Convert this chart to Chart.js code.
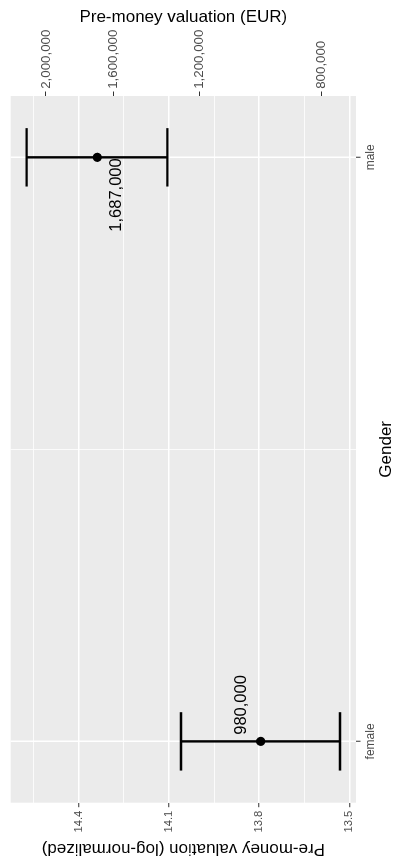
<!DOCTYPE html>
<html><head><meta charset="utf-8">
<script src="https://cdn.jsdelivr.net/npm/chart.js@4.4.0/dist/chart.umd.min.js"></script>
<style>
html,body{margin:0;padding:0;background:#fff;overflow:hidden;width:396px;height:859px;}
#wrap{position:absolute;left:0;top:0;width:859px;height:396px;transform-origin:0 0;transform:translate(0,859px) rotate(-90deg);}
canvas{display:block;}
</style></head><body>
<div id="wrap"><canvas id="c" width="859" height="396"></canvas></div>
<script>
// ---- data ----
const categories = ['female', 'male'];
const meanLog = [13.795, 14.338];
const lowerLog = [13.531, 14.105];
const upperLog = [14.060, 14.573];
const valueLabels = ['980,000', '1,687,000'];
const logTicks = [13.5, 13.8, 14.1, 14.4];
const logTickLabels = ['13.5', '13.8', '14.1', '14.4'];
const logMinorTicks = [13.65, 13.95, 14.25, 14.55];
const eurTicks = [800000, 1200000, 1600000, 2000000];
const eurTickLabels = ['800,000', '1,200,000', '1,600,000', '2,000,000'];

// ---- style ----
const FONT = '"Liberation Sans", Arial, Helvetica, sans-serif';
const capHalf = 0.05;
const labelPlacement = [{align: 'left', dx: 6.6, dy: -19}, {align: 'right', dx: -1, dy: 19}];
Chart.defaults.font.family = FONT;

const errDatasets = [];
categories.forEach((c, i) => {
  const base = {showLine: true, borderColor: '#000', borderWidth: 2.4, pointRadius: 0, pointHoverRadius: 0, fill: false};
  errDatasets.push(Object.assign({data: [{x: i, y: lowerLog[i]}, {x: i, y: upperLog[i]}]}, base));
  errDatasets.push(Object.assign({data: [{x: i - capHalf, y: lowerLog[i]}, {x: i + capHalf, y: lowerLog[i]}]}, base));
  errDatasets.push(Object.assign({data: [{x: i - capHalf, y: upperLog[i]}, {x: i + capHalf, y: upperLog[i]}]}, base));
});

const pointsDataset = {
  data: categories.map((c, i) => ({x: i, y: meanLog[i]})),
  pointRadius: 4.6, pointBackgroundColor: '#000', pointBorderWidth: 0, showLine: false
};

const panelBg = {
  id: 'panelBg',
  beforeDraw(chart) {
    const {ctx, chartArea: a} = chart;
    ctx.save();
    ctx.fillStyle = '#EBEBEB';
    ctx.fillRect(a.left, a.top, a.right - a.left, a.bottom - a.top);
    ctx.restore();
  }
};

const valueLabelPlugin = {
  id: 'valueLabels',
  afterDatasetsDraw(chart) {
    const {ctx, scales: {x, y}} = chart;
    ctx.save();
    ctx.font = '16.5px ' + FONT;
    ctx.fillStyle = '#000';
    ctx.textBaseline = 'middle';
    categories.forEach((c, i) => {
      const p = labelPlacement[i];
      ctx.textAlign = p.align;
      ctx.fillText(valueLabels[i], x.getPixelForValue(i) + p.dx, y.getPixelForValue(meanLog[i]) + p.dy);
    });
    ctx.restore();
  }
};

const allLogGrid = logTicks.concat(logMinorTicks).sort((a, b) => a - b);

new Chart(document.getElementById('c'), {
  type: 'scatter',
  data: {datasets: [pointsDataset].concat(errDatasets)},
  plugins: [panelBg, valueLabelPlugin],
  options: {
    responsive: false, maintainAspectRatio: false, devicePixelRatio: 1, animation: false,
    layout: {padding: {top: 7.3, left: 0, right: 0, bottom: 0}},
    plugins: {legend: {display: false}, tooltip: {enabled: false}},
    scales: {
      x: {
        type: 'linear', position: 'bottom', min: -0.105, max: 1.105,
        afterBuildTicks: s => { s.ticks = [0, 0.5, 1].map(v => ({value: v})); },
        ticks: {
          callback: v => Number.isInteger(v) ? categories[v] : '',
          color: '#4D4D4D', font: {size: 12}, padding: 2.7, autoSkip: false, maxRotation: 0, minRotation: 0
        },
        grid: {
          color: '#FFFFFF',
          lineWidth: c => (c.tick && c.tick.value === 0.5) ? 0.8 : 1.5,
          tickColor: c => (c.tick && c.tick.value === 0.5) ? 'rgba(0,0,0,0)' : '#333333',
          tickLength: 4.5, tickWidth: 1, drawTicks: true
        },
        border: {display: false},
        title: {display: true, text: 'Gender', color: '#000', font: {size: 17, lineHeight: 1.15}, padding: {top: 0, bottom: 0}},
        afterFit: s => { s.height = 40; }
      },
      y: {
        type: 'linear', position: 'left', min: 13.478, max: 14.626,
        afterBuildTicks: s => { s.ticks = allLogGrid.map(v => ({value: v})); },
        ticks: {
          callback: v => { const k = logTicks.indexOf(v); return k >= 0 ? logTickLabels[k] : ''; },
          color: '#4D4D4D', font: {size: 11.2}, padding: 3.5, autoSkip: false
        },
        grid: {
          color: '#FFFFFF',
          lineWidth: c => (c.tick && logTicks.indexOf(c.tick.value) < 0) ? 0.8 : 1.5,
          tickColor: c => (c.tick && logTicks.indexOf(c.tick.value) < 0) ? 'rgba(0,0,0,0)' : '#333333',
          tickLength: 4.5, tickWidth: 1, drawTicks: true
        },
        border: {display: false},
        title: {display: true, text: 'Pre-money valuation (log-normalized)', color: '#000', font: {size: 17, lineHeight: 1.2}, padding: {top: 0, bottom: 0}},
        afterFit: s => { s.width = 56.3; }
      },
      y2: {
        type: 'linear', position: 'right', min: 13.478, max: 14.626,
        afterBuildTicks: s => { s.ticks = eurTicks.map(v => ({value: Math.log(v)})); },
        ticks: {
          callback: (v, i) => eurTickLabels[i],
          color: '#4D4D4D', font: {size: 13.3}, padding: 2.7, autoSkip: false
        },
        grid: {drawOnChartArea: false, color: '#333333', tickColor: '#333333', tickLength: 4.5, tickWidth: 1, drawTicks: true},
        border: {display: false},
        title: {display: true, text: 'Pre-money valuation (EUR)', color: '#000', font: {size: 17, lineHeight: 1.2}, padding: {top: 7.2, bottom: 0}},
        afterFit: s => { s.width = 96; }
      }
    }
  }
});
</script>
</body></html>
